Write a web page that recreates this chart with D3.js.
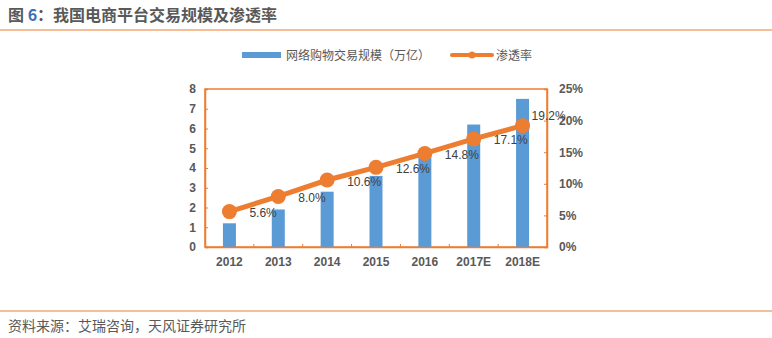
<!doctype html>
<html lang="zh">
<head>
<meta charset="UTF-8">
<title>我国电商平台交易规模及渗透率</title>
<script src="https://cdn.jsdelivr.net/npm/d3@7"></script>
<style>
  body { margin: 0; background: #fff; }
  text { font-family: "Noto Sans CJK SC", "Liberation Sans", sans-serif; }
</style>
</head>
<body>
<div id="container"></div>
<script>
var years = ['2012', '2013', '2014', '2015', '2016', '2017E', '2018E'];
var volume = [1.2, 1.9, 2.8, 3.6, 4.8, 6.2, 7.5];   // 万亿
var penetration = [5.6, 8.0, 10.6, 12.6, 14.8, 17.1, 19.2]; // %
var leftTicks = [0, 1, 2, 3, 4, 5, 6, 7, 8];
var rightTicks = [0, 5, 10, 15, 20, 25];

var blue = '#5B9BD5', orange = '#ED7D31', grey = '#595959';
var W = 772, H = 338;

var svg = d3.select('#container').append('svg')
  .attr('width', W).attr('height', H);

// title
var title = svg.append('text').attr('x', 8).attr('y', 21)
  .style('font-size', '16px').style('font-weight', 'bold').attr('fill', grey);
title.append('tspan').text('图 ');
title.append('tspan').attr('fill', '#3B6FB6').text('6');
title.append('tspan').text('：我国电商平台交易规模及渗透率');
svg.append('line').attr('x1', 0).attr('x2', W).attr('y1', 30).attr('y2', 30)
  .attr('stroke', orange).attr('stroke-width', 1.2);

// source
svg.append('line').attr('x1', 0).attr('x2', W).attr('y1', 311).attr('y2', 311)
  .attr('stroke', orange).attr('stroke-width', 1);
svg.append('text').attr('x', 8).attr('y', 331)
  .style('font-size', '14px').attr('fill', grey)
  .text('资料来源：艾瑞咨询，天风证券研究所');

// legend
svg.append('rect').attr('x', 242).attr('y', 52).attr('width', 39).attr('height', 6).attr('fill', blue);
svg.append('text').attr('x', 286).attr('y', 60).style('font-size', '12px').attr('fill', grey)
  .text('网络购物交易规模（万亿）');
svg.append('line').attr('x1', 452).attr('x2', 492).attr('y1', 55).attr('y2', 55)
  .attr('stroke', orange).attr('stroke-width', 4).attr('stroke-linecap', 'round');
svg.append('circle').attr('cx', 472).attr('cy', 55).attr('r', 3.5).attr('fill', orange);
svg.append('text').attr('x', 496).attr('y', 60).style('font-size', '12px').attr('fill', grey)
  .text('渗透率');

// plot area
var pLeft = 205, pRight = 547, pTop = 89, pBottom = 247;

var x = d3.scaleBand().domain(years).range([pLeft, pRight]);
var yL = d3.scaleLinear().domain([0, 8]).range([pBottom, pTop]);
var yR = d3.scaleLinear().domain([0, 25]).range([pBottom, pTop]);
function cx(i) { return x(years[i]) + x.bandwidth() / 2; }

// frame
svg.append('rect').attr('x', pLeft).attr('y', pTop)
  .attr('width', pRight - pLeft).attr('height', pBottom - pTop)
  .attr('fill', 'none').attr('stroke', orange).attr('stroke-width', 1.5);

// bars
svg.selectAll('.bar').data(volume).enter().append('rect')
  .attr('class', 'bar')
  .attr('x', function(d, i) { return cx(i) - 6.5; })
  .attr('y', function(d) { return yL(d); })
  .attr('width', 13)
  .attr('height', function(d) { return pBottom - yL(d); })
  .attr('fill', blue);

// axes
var axL = svg.append('g').attr('transform', 'translate(' + pLeft + ',0)')
  .call(d3.axisLeft(yL).tickValues(leftTicks).tickSize(-3).tickPadding(9).tickFormat(d3.format('d')));
var axR = svg.append('g').attr('transform', 'translate(' + pRight + ',0)')
  .call(d3.axisRight(yR).tickValues(rightTicks).tickSize(-3).tickPadding(12).tickFormat(function(d) { return d + '%'; }));
var axB = svg.append('g').attr('transform', 'translate(0,' + pBottom + ')')
  .call(d3.axisBottom(x).tickSize(0).tickPadding(10));
// category boundary ticks
svg.selectAll('.btick').data(years.slice(1)).enter().append('line')
  .attr('x1', function(d) { return x(d); }).attr('x2', function(d) { return x(d); })
  .attr('y1', pBottom).attr('y2', pBottom - 3)
  .attr('stroke', orange).attr('stroke-width', 1);

[axL, axR, axB].forEach(function(ax) {
  ax.select('.domain').attr('stroke', orange).attr('stroke-width', 1.5);
  ax.selectAll('.tick line').attr('stroke', orange);
  ax.selectAll('.tick text').attr('fill', grey).style('font-size', '12px')
    .style('font-weight', 'bold')
    .style('font-family', '"Liberation Sans", sans-serif');
});

// line
var line = d3.line()
  .x(function(d, i) { return cx(i); })
  .y(function(d) { return yR(d); });
svg.append('path').datum(penetration).attr('d', line)
  .attr('fill', 'none').attr('stroke', orange).attr('stroke-width', 5);
svg.selectAll('.dot').data(penetration).enter().append('circle')
  .attr('cx', function(d, i) { return cx(i); })
  .attr('cy', function(d) { return yR(d); })
  .attr('r', 7.5).attr('fill', orange);

var last = penetration.length - 1;
svg.selectAll('.lbl').data(penetration).enter().append('text')
  .attr('class', 'lbl')
  .attr('x', function(d, i) { return i === last ? cx(i) + 9 : cx(i) + 20; })
  .attr('y', function(d, i) { return i === last ? yR(d) - 6 : yR(d) + 5.5; })
  .style('font-size', '12px').style('font-family', '"Liberation Sans", sans-serif')
  .attr('fill', '#404040')
  .text(function(d) { return d.toFixed(1) + '%'; });
</script>
</body>
</html>
